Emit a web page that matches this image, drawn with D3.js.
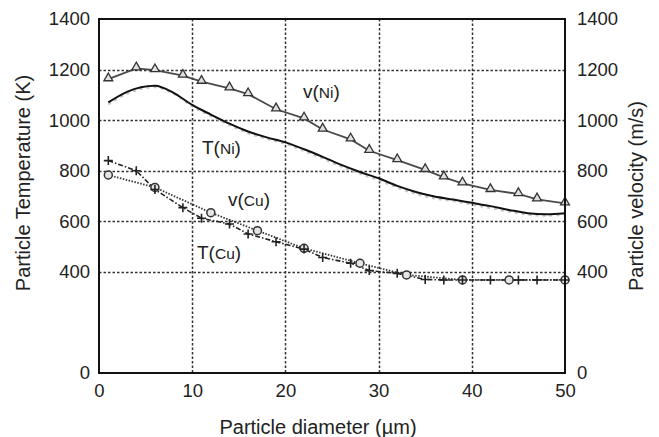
<!DOCTYPE html>
<html>
<head>
<meta charset="utf-8">
<script src="https://cdn.jsdelivr.net/npm/d3@7"></script>
<style>
  html, body { margin: 0; padding: 0; background: #fff; }
  svg { display: block; font-family: "Liberation Sans", Arial, Helvetica, sans-serif; }
</style>
</head>
<body>
<svg id="chart" width="659" height="437"></svg>
<script>
// Particle diameters (µm) at which the marked series were sampled
const diameters = [1, 4, 6, 9, 11, 14, 16, 19, 22, 24, 27, 29, 32, 35, 37, 39, 42, 45, 47, 50];

// Ni particle velocity (m/s)
const vNi = [1162, 1205, 1198, 1176, 1152, 1126, 1103, 1043, 1007, 963, 924, 879, 842, 803, 774, 750, 724, 708, 687, 671];

// Cu particle temperature (K)
const tCu = [840, 800, 726, 654, 612, 589, 550, 519, 490, 457, 434, 405, 394, 370, 368, 368, 368, 368, 368, 368];

// Cu particle velocity (m/s)
const cuDiameters = [1, 6, 12, 17, 22, 28, 33, 39, 44, 50];
const vCu = [783, 734, 634, 563, 493, 434, 388, 368, 368, 368];

// Ni particle temperature (K), smooth curve
const niDiameters = [1, 3, 6, 8, 10, 12, 14, 16, 18, 20, 22, 24, 26, 28, 30, 32, 34, 36, 38, 40, 42, 44, 46, 48, 50];
const tNi = [1070, 1112, 1136, 1108, 1060, 1022, 986, 955, 932, 912, 885, 855, 823, 795, 770, 740, 716, 698, 686, 673, 660, 645, 632, 628, 632];
// faint companion trace under the Ni temperature curve
const tNiRaw = [1062, 1104, 1130, 1104, 1054, 1016, 980, 948, 926, 906, 878, 848, 816, 788, 762, 733, 708, 690, 680, 666, 652, 638, 626, 622, 626];

const xTicks = [0, 10, 20, 30, 40, 50];
const yTicks = [0, 400, 600, 800, 1000, 1200, 1400];
const gridY = [400, 600, 800, 1000, 1200];
const gridX = [10, 20, 30, 40];

const svg = d3.select("#chart");
const plotLeft = 99, plotRight = 565, plotTop = 19, plotBottom = 373;

const x = d3.scaleLinear().domain([0, 50]).range([plotLeft, plotRight]);
const y = d3.scaleLinear().domain([0, 1400]).range([plotBottom, plotTop]);

// dotted grid
const grid = svg.append("g").attr("stroke", "#333").attr("stroke-width", 1.5).attr("stroke-dasharray", "2.5,2");
grid.selectAll("line.gy").data(gridY).join("line").attr("class", "gy")
  .attr("x1", plotLeft).attr("x2", plotRight).attr("y1", d => Math.round(y(d)) + 0.5).attr("y2", d => Math.round(y(d)) + 0.5);
grid.selectAll("line.gx").data(gridX).join("line").attr("class", "gx")
  .attr("y1", plotTop).attr("y2", plotBottom).attr("x1", d => Math.round(x(d)) + 0.5).attr("x2", d => Math.round(x(d)) + 0.5);

// axes
const fontTick = 18.5;
const axL = svg.append("g").attr("transform", `translate(${plotLeft},0)`)
  .call(d3.axisLeft(y).tickValues(yTicks).tickSize(0).tickPadding(9).tickFormat(d3.format("d")));
const axR = svg.append("g").attr("transform", `translate(${plotRight},0)`)
  .call(d3.axisRight(y).tickValues(yTicks).tickSize(0).tickPadding(12).tickFormat(d3.format("d")));
const axB = svg.append("g").attr("transform", `translate(0,${plotBottom})`)
  .call(d3.axisBottom(x).tickValues(xTicks).tickSize(0).tickPadding(11).tickFormat(d3.format("d")));
[axL, axR, axB].forEach(g => {
  g.select(".domain").remove();
  g.selectAll("text").attr("font-size", fontTick).attr("fill", "#222")
    .attr("font-family", "Liberation Sans, Arial, sans-serif");
});

// lines
const line = (xs) => d3.line().x((d, i) => x(xs[i])).y(d => y(d));

svg.append("path").datum(tNiRaw)
  .attr("d", line(niDiameters).curve(d3.curveMonotoneX))
  .attr("fill", "none").attr("stroke", "#c4c4c4").attr("stroke-width", 2).attr("stroke-dasharray", "3,4");

svg.append("path").datum(tNi)
  .attr("d", line(niDiameters).curve(d3.curveMonotoneX))
  .attr("fill", "none").attr("stroke", "#111").attr("stroke-width", 2);

svg.append("path").datum(vNi)
  .attr("d", line(diameters))
  .attr("fill", "none").attr("stroke", "#4a4a4a").attr("stroke-width", 1.8);

svg.append("path").datum(vCu)
  .attr("d", line(cuDiameters))
  .attr("fill", "none").attr("stroke", "#333").attr("stroke-width", 1.8).attr("stroke-dasharray", "1.5,1.5");

svg.append("path").datum(tCu)
  .attr("d", line(diameters))
  .attr("fill", "none").attr("stroke", "#222").attr("stroke-width", 1.6).attr("stroke-dasharray", "5,2,1.5,2");

// markers
const tri = d3.symbol().type(d3.symbolTriangle).size(34);
svg.append("g").selectAll("path").data(vNi).join("path")
  .attr("d", tri)
  .attr("transform", (d, i) => `translate(${x(diameters[i])},${y(d) - 1})`)
  .attr("fill", "#e0e0e0").attr("stroke", "#333").attr("stroke-width", 1.3);

svg.append("g").selectAll("circle").data(vCu).join("circle")
  .attr("cx", (d, i) => x(cuDiameters[i])).attr("cy", d => y(d)).attr("r", 4)
  .attr("fill", "#e4e4e4").attr("stroke", "#333").attr("stroke-width", 1.5);

svg.append("g").selectAll("path").data(tCu).join("path")
  .attr("d", "M-4.5,0H4.5M0,-4.5V4.5")
  .attr("transform", (d, i) => `translate(${x(diameters[i])},${y(d)})`)
  .attr("fill", "none").attr("stroke", "#222").attr("stroke-width", 1.6);

// frame
svg.append("rect").attr("x", plotLeft).attr("y", plotTop)
  .attr("width", plotRight - plotLeft).attr("height", plotBottom - plotTop)
  .attr("fill", "none").attr("stroke", "#111").attr("stroke-width", 2);

// series labels
function seriesLabel(px, py, main, sub) {
  const t = svg.append("text").attr("x", px).attr("y", py).attr("fill", "#222").attr("font-size", 19);
  t.append("tspan").text(main + "(");
  t.append("tspan").attr("font-size", 15.5).text(sub);
  t.append("tspan").text(")");
}
seriesLabel(303, 98, "v", "Ni");
seriesLabel(202, 154, "T", "Ni");
seriesLabel(228, 206, "v", "Cu");
seriesLabel(197, 259, "T", "Cu");

// axis titles
svg.append("text").attr("x", 318).attr("y", 434).attr("text-anchor", "middle")
  .attr("font-size", 20).attr("fill", "#222").text("Particle diameter (\u00b5m)");
svg.append("text").attr("transform", "translate(30,183) rotate(-90)").attr("text-anchor", "middle")
  .attr("font-size", 20).attr("fill", "#222").text("Particle Temperature (K)");
svg.append("text").attr("transform", "translate(643,196) rotate(-90)").attr("text-anchor", "middle")
  .attr("font-size", 20).attr("fill", "#222").text("Particle velocity (m/s)");
</script>
</body>
</html>
